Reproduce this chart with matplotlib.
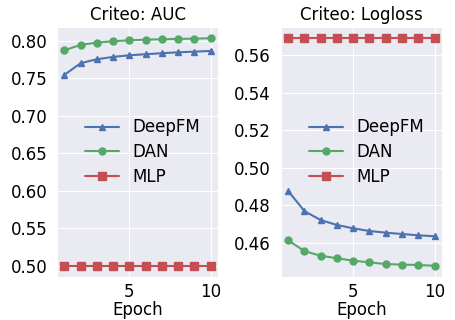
import matplotlib
matplotlib.use('Agg')
import matplotlib.pyplot as plt
import seaborn as sns

sns.set_style('darkgrid')
plt.rcParams['font.family'] = ['DejaVu Sans']
plt.rcParams['text.color'] = 'black'
plt.rcParams['axes.labelcolor'] = 'black'
plt.rcParams['xtick.color'] = 'black'
plt.rcParams['ytick.color'] = 'black'

epochs = [1, 2, 3, 4, 5, 6, 7, 8, 9, 10]

auc_deepfm = [0.7547, 0.7703, 0.7756, 0.7787, 0.7809, 0.7823, 0.7836, 0.7849, 0.7857, 0.7867]
auc_dan = [0.7876, 0.7947, 0.7978, 0.7996, 0.8009, 0.8017, 0.8023, 0.8027, 0.8031, 0.8036]
auc_mlp = [0.50] * 10

loss_deepfm = [0.4877, 0.4770, 0.4722, 0.4696, 0.4678, 0.4664, 0.4655, 0.4648, 0.4641, 0.4636]
loss_dan = [0.4614, 0.4557, 0.4532, 0.4519, 0.4506, 0.4497, 0.4488, 0.4485, 0.4483, 0.4479]
loss_mlp = [0.569] * 10

blue, green, red = '#4C72B0', '#55A868', '#C44E52'

fig, (ax1, ax2) = plt.subplots(1, 2, figsize=(4.56, 3.2), dpi=100)
fig.subplots_adjust(left=0.125, right=0.969, bottom=0.134, top=0.916, wspace=0.39)

for ax, title, d, g, m in [(ax1, 'Criteo: AUC', auc_deepfm, auc_dan, auc_mlp),
                           (ax2, 'Criteo: Logloss', loss_deepfm, loss_dan, loss_mlp)]:
    ax.plot(epochs, d, color=blue, marker='^', ms=5, lw=1.5, label='DeepFM')
    ax.plot(epochs, g, color=green, marker='o', ms=5, lw=1.5, label='DAN')
    ax.plot(epochs, m, color=red, marker='s', ms=5.5, lw=1.5, label='MLP')
    ax.set_title(title, fontsize=12, pad=5)
    ax.set_xlabel('Epoch', fontsize=12, labelpad=0)
    ax.set_xticks([5, 10])
    ax.tick_params(labelsize=12)
    ax.tick_params(axis='x', pad=1)
    ax.legend(loc='center right', bbox_to_anchor=(0.98, 0.5), fontsize=12,
              frameon=False, labelspacing=0.4)

ax1.set_yticks([0.50, 0.55, 0.60, 0.65, 0.70, 0.75, 0.80])
ax2.set_yticks([0.46, 0.48, 0.50, 0.52, 0.54, 0.56])

fig.savefig('out.png', dpi=100)
